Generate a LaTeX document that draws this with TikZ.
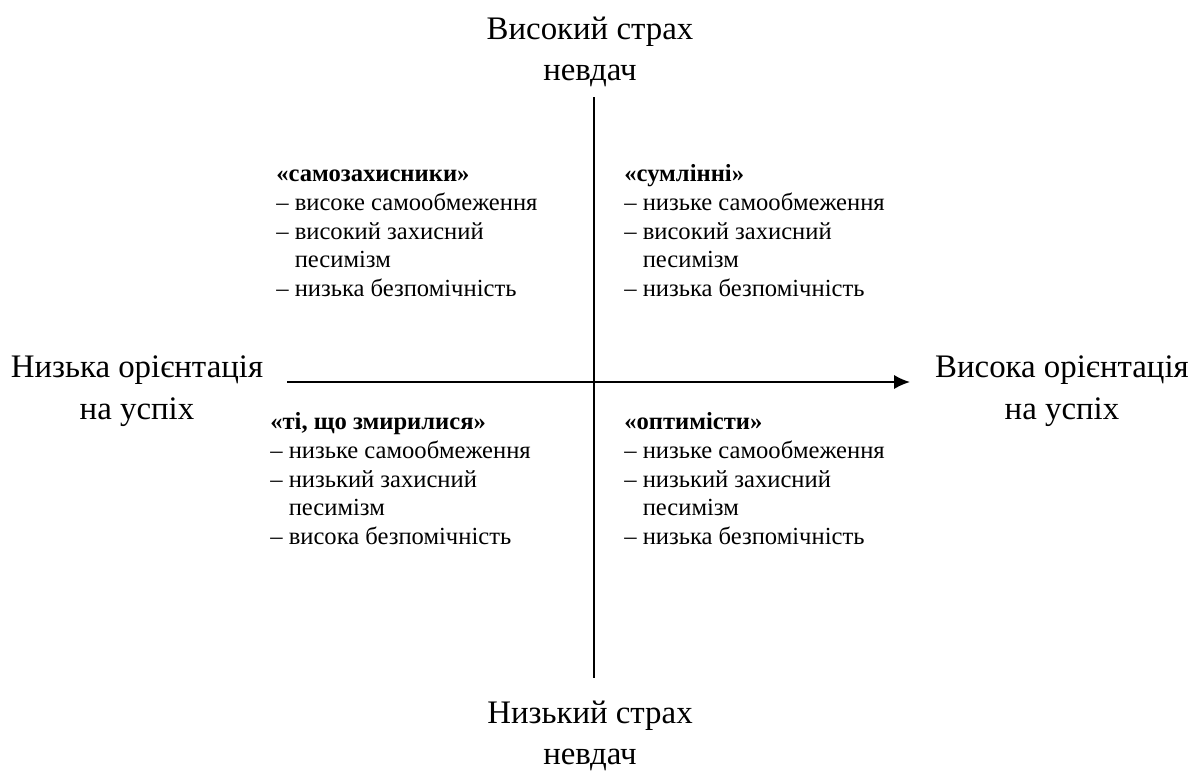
\documentclass[tikz,border=0pt]{standalone}
\usepackage{fontspec}
\setmainfont{Liberation Serif}
\usetikzlibrary{arrows.meta, positioning}

\begin{document}
\begin{tikzpicture}[
    x=0.02cm, y=-0.02cm,
    axis/.style={line width=1pt, black},
    pole/.style={align=center, font=\fontsize{18.7}{23.6}\selectfont},
    quad/.style={align=left, anchor=north west, inner sep=0pt, font=\fontsize{14}{16.4}\selectfont}
]
    \useasboundingbox (0,0) rectangle (1190,772);

    % axes
    \coordinate (top) at (594,97);
    \coordinate (bot) at (594,678);
    \coordinate (left) at (287,382);
    \coordinate (right) at (910,382);
    \draw[axis] (top) -- (bot);
    \draw[axis, -{Latex[length=9pt,width=8pt]}] (left) -- (right);

    % pole labels
    \node[pole] (hifear) at (590,52) {Високий страх\\невдач};
    \node[pole] (lofear) at (590,736) {Низький страх\\невдач};
    \node[pole] (loorient) at (137,391) {Низька орієнтація\\на успіх};
    \node[pole] (hiorient) at (1062,391) {Висока орієнтація\\на успіх};

    % quadrants
    \node[quad] (q1) at (276,161) {\strut\textbf{«самозахисники»}\\
        – високе самообмеження\\
        – високий захисний\\
        \hphantom{– }песимізм\\
        – низька безпомічність};
    \node[quad] (q2) at (624,161) {\strut\textbf{«сумлінні»}\\
        – низьке самообмеження\\
        – високий захисний\\
        \hphantom{– }песимізм\\
        – низька безпомічність};
    \node[quad] (q3) at (270,409) {\strut\textbf{«ті, що змирилися»}\\
        – низьке самообмеження\\
        – низький захисний\\
        \hphantom{– }песимізм\\
        – висока безпомічність};
    \node[quad] (q4) at (624,409) {\strut\textbf{«оптимісти»}\\
        – низьке самообмеження\\
        – низький захисний\\
        \hphantom{– }песимізм\\
        – низька безпомічність};
\end{tikzpicture}
\end{document}
